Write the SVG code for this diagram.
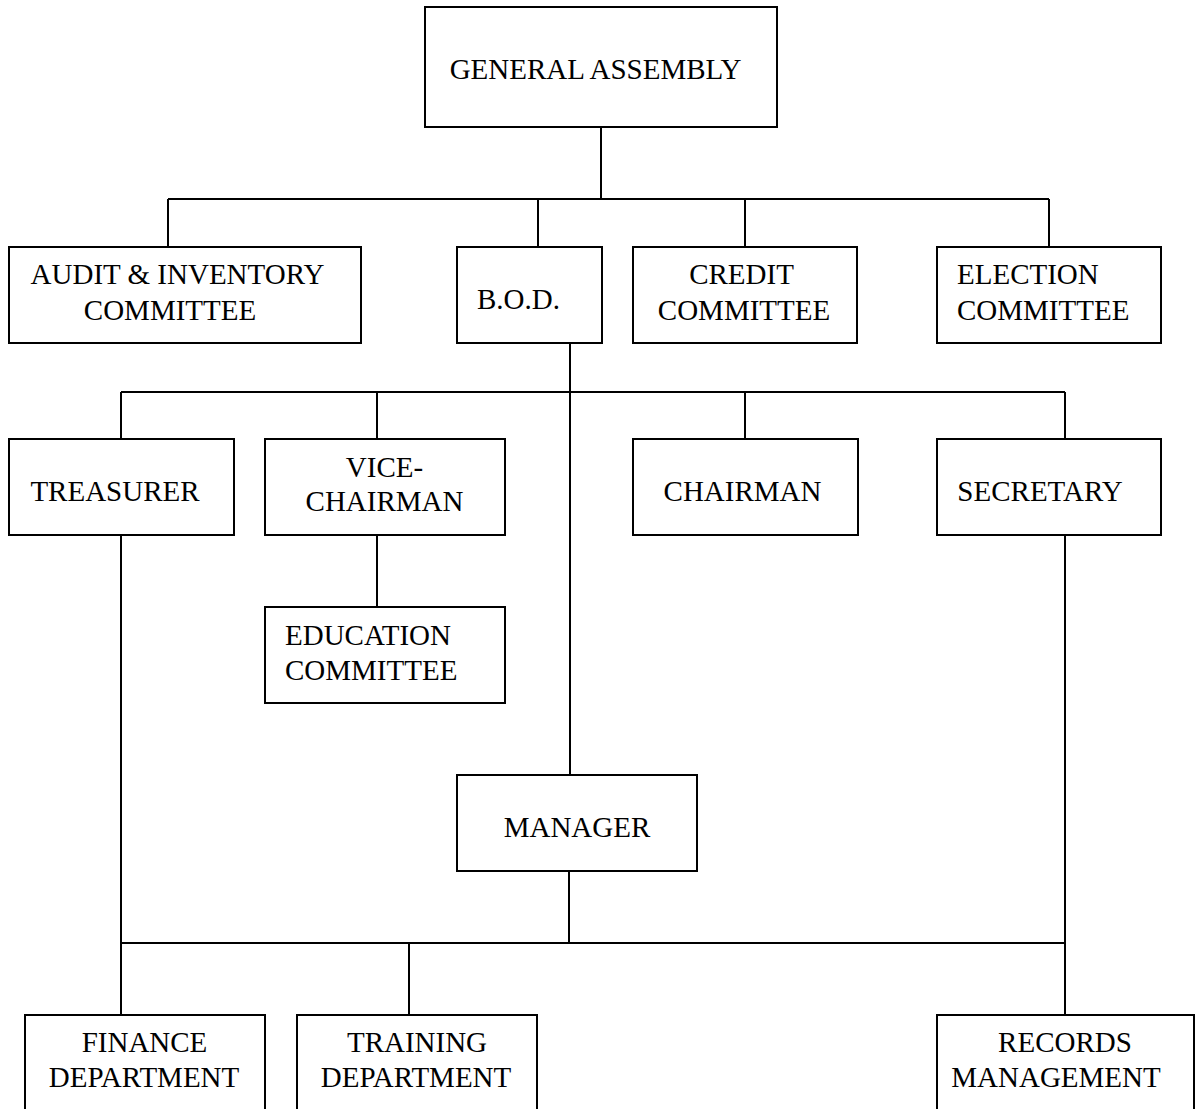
<svg xmlns="http://www.w3.org/2000/svg" width="1198" height="1109" viewBox="0 0 1198 1109">
<style>
.box{fill:#fff;stroke:#000;stroke-width:2}
.t{font-family:"Liberation Serif","Times New Roman",serif;font-size:29px;fill:#000}
.m{text-anchor:middle}
.c{stroke:#000;stroke-width:2;fill:none}
</style>
<rect x="0" y="0" width="1198" height="1109" fill="#fff"/>
<g id="connectors">
<path class="c" d="M601,127V199M168,199H1049M168,199V247M538,199V247M745,199V247M1049,199V247"/>
<path class="c" d="M570,343V775M121,392H1065M121,392V439M377,392V439M745,392V439M1065,392V439"/>
<path class="c" d="M377,535V607M121,535V1015M1065,535V1015M569,871V943M121,943H1065M409,943V1015"/>
</g>
<g id="general-assembly"><rect class="box" x="425" y="7" width="352" height="120"/><text class="t m" x="595.5" y="79">GENERAL ASSEMBLY</text></g>
<g id="audit"><rect class="box" x="9" y="247" width="352" height="96"/><text class="t m" x="177.5" y="284">AUDIT &amp; INVENTORY</text><text class="t m" x="170" y="320">COMMITTEE</text></g>
<g id="bod"><rect class="box" x="457" y="247" width="145" height="96"/><text class="t" x="477" y="309">B.O.D.</text></g>
<g id="credit"><rect class="box" x="633" y="247" width="224" height="96"/><text class="t m" x="741.5" y="284">CREDIT</text><text class="t m" x="744" y="320">COMMITTEE</text></g>
<g id="election"><rect class="box" x="937" y="247" width="224" height="96"/><text class="t" x="957" y="284">ELECTION</text><text class="t" x="957" y="320">COMMITTEE</text></g>
<g id="treasurer"><rect class="box" x="9" y="439" width="225" height="96"/><text class="t m" x="115" y="501">TREASURER</text></g>
<g id="vice-chairman"><rect class="box" x="265" y="439" width="240" height="96"/><text class="t m" x="384.5" y="477">VICE-</text><text class="t m" x="384.5" y="511">CHAIRMAN</text></g>
<g id="chairman"><rect class="box" x="633" y="439" width="225" height="96"/><text class="t m" x="742.5" y="501">CHAIRMAN</text></g>
<g id="secretary"><rect class="box" x="937" y="439" width="224" height="96"/><text class="t m" x="1040" y="501">SECRETARY</text></g>
<g id="education"><rect class="box" x="265" y="607" width="240" height="96"/><text class="t" x="285" y="645">EDUCATION</text><text class="t" x="285" y="680">COMMITTEE</text></g>
<g id="manager"><rect class="box" x="457" y="775" width="240" height="96"/><text class="t m" x="577" y="837">MANAGER</text></g>
<g id="finance"><rect class="box" x="25" y="1015" width="240" height="120"/><text class="t m" x="144.5" y="1052">FINANCE</text><text class="t m" x="144" y="1087">DEPARTMENT</text></g>
<g id="training"><rect class="box" x="297" y="1015" width="240" height="120"/><text class="t m" x="417" y="1052">TRAINING</text><text class="t m" x="416" y="1087">DEPARTMENT</text></g>
<g id="records"><rect class="box" x="937" y="1015" width="257" height="120"/><text class="t m" x="1065" y="1052">RECORDS</text><text class="t m" x="1056" y="1087">MANAGEMENT</text></g>
</svg>
